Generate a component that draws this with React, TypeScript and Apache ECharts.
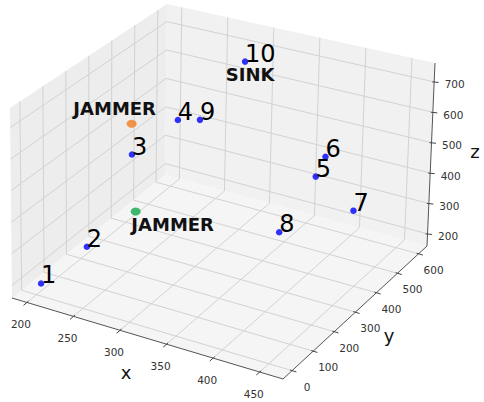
import React, { useEffect, useRef } from "react";
import * as echarts from "echarts";

const W = 484;
const H = 402;

// ---- data ----
const nodeNames = ["1", "2", "3", "4", "5", "6", "7", "8", "9", "10"];
const nodeX = [205, 205, 205, 224, 382, 385, 418, 348, 242, 295];
const nodeY = [0, 205, 405, 531, 502, 532, 529, 484, 556, 534];
const nodeZ = [200, 200, 390, 450, 400, 450, 300, 200, 450, 700];

const jammerLabels = ["JAMMER", "JAMMER"];
const jammerX = [205, 209];
const jammerY = [403, 407];
const jammerZ = [495, 200];
const jammerColors = ["#f47a22", "#12a84c"];
const sinkNode = "10";
const sinkLabel = "SINK";

const xTicks = [200, 250, 300, 350, 400, 450];
const yTicks = [0, 100, 200, 300, 400, 500, 600];
const zTicks = [200, 300, 400, 500, 600, 700];
const xLim = [184, 475];
const yLim = [-43, 640];
const zLim = [160, 762];

// ---- projection of the 3D box onto the page (layout) ----
const B00 = [12, 298], B10 = [283, 379], B11 = [427, 246], B01 = [165, 175];
const T00 = [10, 108], T10 = [288, 177], T11 = [435, 63], T01 = [167, 4];

function project(x: number, y: number, z: number): [number, number] {
  const u = (x - xLim[0]) / (xLim[1] - xLim[0]);
  const v = (y - yLim[0]) / (yLim[1] - yLim[0]);
  const w = (z - zLim[0]) / (zLim[1] - zLim[0]);
  const bil = (a: number[], b: number[], c: number[], d: number[], k: number) =>
    (1 - u) * (1 - v) * a[k] + u * (1 - v) * b[k] + u * v * c[k] + (1 - u) * v * d[k];
  const bx = bil(B00, B10, B11, B01, 0), by = bil(B00, B10, B11, B01, 1);
  const tx = bil(T00, T10, T11, T01, 0), ty = bil(T00, T10, T11, T01, 1);
  return [bx + (tx - bx) * w, by + (ty - by) * w];
}

const [x0, x1] = xLim, [y0, y1] = yLim, [z0, z1] = zLim;

const paneColors = ["#ededed", "#f1f1f1", "#f5f5f5"];
const panes: number[][] = [
  [[x0, y0, z0], [x0, y1, z0], [x0, y1, z1], [x0, y0, z1]],
  [[x0, y1, z0], [x1, y1, z0], [x1, y1, z1], [x0, y1, z1]],
  [[x0, y0, z0], [x1, y0, z0], [x1, y1, z0], [x0, y1, z0]],
].map((quad, i) => [...quad.flatMap((p) => project(p[0], p[1], p[2])), i]);

const lineStyles = [
  { color: "#d2d2d2", width: 1 },
  { color: "#555555", width: 1 },
];
const segs: number[][] = [];
const seg = (a: number[], b: number[], s: number) => {
  const p = project(a[0], a[1], a[2]);
  const q = project(b[0], b[1], b[2]);
  segs.push([p[0], p[1], q[0], q[1], s]);
};
xTicks.forEach((x) => {
  seg([x, y0, z0], [x, y1, z0], 0);
  seg([x, y1, z0], [x, y1, z1], 0);
});
yTicks.forEach((y) => {
  seg([x0, y, z0], [x1, y, z0], 0);
  seg([x0, y, z0], [x0, y, z1], 0);
});
zTicks.forEach((z) => {
  seg([x0, y0, z], [x0, y1, z], 0);
  seg([x0, y1, z], [x1, y1, z], 0);
});
seg([x0, y0, z0], [x1, y0, z0], 1);
seg([x1, y0, z0], [x1, y1, z0], 1);
seg([x1, y1, z0], [x1, y1, z1], 1);

// tick marks: [sx, sy, dx1, dy1, dx2, dy2]
const ticks: number[][] = [];
xTicks.forEach((x) => {
  const p = project(x, y0, z0);
  ticks.push([p[0], p[1], 1.5, -1.3, -3.4, 2.9]);
});
yTicks.forEach((y) => {
  const p = project(x1, y, z0);
  ticks.push([p[0], p[1], -1.9, -0.6, 4.3, 1.3]);
});
zTicks.forEach((z) => {
  const p = project(x1, y1, z);
  ticks.push([p[0], p[1], -2, 0, 4.5, 0.6]);
});

// texts
type TextSpec = { text: string; dx: number; dy: number; font: string; color: string; align: string };
const texts: number[][] = [];
const textSpecs: TextSpec[] = [];
const addText = (p: [number, number], spec: TextSpec) => {
  texts.push([p[0], p[1]]);
  textSpecs.push(spec);
};
const tickFont = '10.5px "DejaVu Sans"';
xTicks.forEach((x) =>
  addText(project(x, y0, z0), { text: String(x), dx: -6, dy: 22, font: tickFont, color: "#333", align: "center" })
);
yTicks.forEach((y) =>
  addText(project(x1, y, z0), { text: String(y), dx: 15, dy: 16, font: tickFont, color: "#333", align: "center" })
);
zTicks.forEach((z) =>
  addText(project(x1, y1, z), { text: String(z), dx: 20.5, dy: 2.5, font: tickFont, color: "#333", align: "center" })
);
const titleFont = '18px "DejaVu Sans"';
addText(project((x0 + x1) / 2, y0, z0), { text: "x", dx: -21.5, dy: 34, font: titleFont, color: "#111", align: "center" });
addText(project(x1, (y0 + y1) / 2, z0), { text: "y", dx: 34, dy: 23, font: titleFont, color: "#111", align: "center" });
addText(project(x1, y1, (z0 + z1) / 2), { text: "z", dx: 44, dy: -3, font: titleFont, color: "#111", align: "center" });

const nodeFont = '24px "DejaVu Sans"';
nodeNames.forEach((n, i) =>
  addText(project(nodeX[i], nodeY[i], nodeZ[i]), { text: n, dx: 0, dy: -8, font: nodeFont, color: "#000", align: "left" })
);
const noteFont = 'bold 18px "DejaVu Sans"';
const jammerOffsets = [[-17, -15], [37, 12.6]];
jammerLabels.forEach((t, i) =>
  addText(project(jammerX[i], jammerY[i], jammerZ[i]), {
    text: t, dx: jammerOffsets[i][0], dy: jammerOffsets[i][1], font: noteFont, color: "#111", align: "center",
  })
);
const si = nodeNames.indexOf(sinkNode);
addText(project(nodeX[si], nodeY[si], nodeZ[si]), { text: sinkLabel, dx: 5, dy: 13, font: noteFont, color: "#111", align: "center" });

const markers = [
  ...nodeNames.map((n, i) => ({
    name: n,
    value: project(nodeX[i], nodeY[i], nodeZ[i]),
    symbolSize: 6.5,
    itemStyle: { color: "#0000ff" },
  })),
  ...jammerLabels.map((n, i) => ({
    name: n,
    value: project(jammerX[i], jammerY[i], jammerZ[i]),
    symbolSize: [10, 8],
    itemStyle: { color: jammerColors[i] },
  })),
];

export default function App() {
  const ref = useRef<HTMLDivElement>(null);
  useEffect(() => {
    if (!ref.current) return;
    const chart = echarts.init(ref.current, undefined, { renderer: "svg" });
    chart.setOption({
      animation: false,
      backgroundColor: "#ffffff",
      grid: { left: 0, right: 0, top: 0, bottom: 0 },
      xAxis: { type: "value", min: 0, max: W, show: false },
      yAxis: { type: "value", min: 0, max: H, inverse: true, show: false },
      series: [
        {
          type: "custom",
          z: 1,
          silent: true,
          data: panes,
          renderItem: (params: any, api: any) => {
            const pts = [0, 1, 2, 3].map((k) => api.coord([api.value(2 * k), api.value(2 * k + 1)]));
            return {
              type: "polygon",
              shape: { points: pts },
              style: { fill: paneColors[api.value(8)], stroke: null },
            };
          },
        },
        {
          type: "custom",
          z: 2,
          silent: true,
          data: segs,
          renderItem: (params: any, api: any) => {
            const a = api.coord([api.value(0), api.value(1)]);
            const b = api.coord([api.value(2), api.value(3)]);
            const s = lineStyles[api.value(4)];
            return {
              type: "line",
              shape: { x1: a[0], y1: a[1], x2: b[0], y2: b[1] },
              style: { stroke: s.color, lineWidth: s.width },
            };
          },
        },
        {
          type: "custom",
          z: 3,
          silent: true,
          data: ticks,
          renderItem: (params: any, api: any) => {
            const a = api.coord([api.value(0), api.value(1)]);
            return {
              type: "line",
              shape: {
                x1: a[0] + api.value(2), y1: a[1] + api.value(3),
                x2: a[0] + api.value(4), y2: a[1] + api.value(5),
              },
              style: { stroke: "#444", lineWidth: 1 },
            };
          },
        },
        {
          type: "scatter",
          z: 5,
          silent: true,
          symbol: "circle",
          data: markers,
        },
        {
          type: "custom",
          z: 6,
          silent: true,
          data: texts,
          renderItem: (params: any, api: any) => {
            const s = textSpecs[params.dataIndex];
            const a = api.coord([api.value(0), api.value(1)]);
            return {
              type: "text",
              x: a[0] + s.dx,
              y: a[1] + s.dy,
              style: { text: s.text, fill: s.color, font: s.font, align: s.align, verticalAlign: "middle" },
            };
          },
        },
      ],
    });
    return () => chart.dispose();
  }, []);
  return <div ref={ref} style={{ position: "absolute", left: 0, top: 0, width: W, height: H }} />;
}
